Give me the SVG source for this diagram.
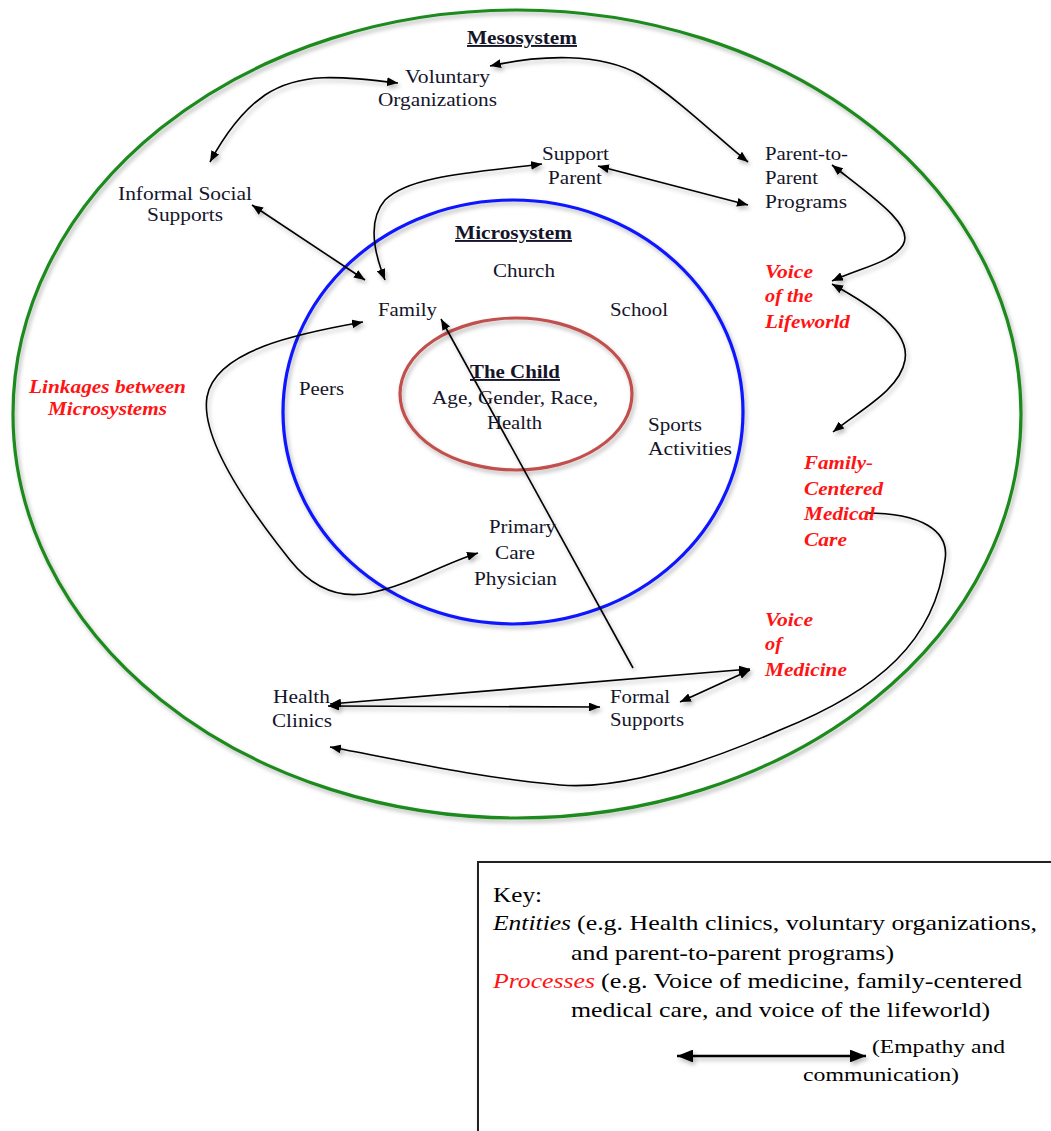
<svg xmlns="http://www.w3.org/2000/svg" width="1051" height="1131" viewBox="0 0 1051 1131" font-family="'Liberation Serif', Tinos, 'Times New Roman', serif">
<defs>
<style>
text{font-family:"Liberation Serif",Tinos,"Times New Roman",serif;font-size:19px;fill:#15152a}
.hdr{font-weight:bold;text-decoration:underline}
.proc{font-style:italic;font-weight:bold;fill:#ff1414}
.key{font-size:22px;fill:#000}
.sm{font-size:19px;fill:#000}
.it{font-style:italic}
.red{fill:#ff1414}
.c{fill:none;stroke:#000;stroke-width:1.6}
.ring{fill:none;stroke-width:3.2}
</style>
<filter id="sh" filterUnits="userSpaceOnUse" x="0" y="0" width="1051" height="1131">
<feDropShadow dx="2" dy="3" stdDeviation="2" flood-color="#000" flood-opacity="0.28"/>
</filter>
<marker id="ah" viewBox="0 0 10 8" refX="10" refY="4" markerWidth="11" markerHeight="8.8" markerUnits="userSpaceOnUse" orient="auto-start-reverse">
<path d="M0,0 L10,4 L0,8 z" fill="#000"/>
</marker>
<marker id="ahk" viewBox="0 0 10 8" refX="10" refY="4" markerWidth="16" markerHeight="12.8" markerUnits="userSpaceOnUse" orient="auto-start-reverse">
<path d="M0,0 L10,4 L0,8 z" fill="#000"/>
</marker>
</defs>
<rect width="1051" height="1131" fill="#fff"/>

<g id="rings" filter="url(#sh)">
<ellipse id="mesosystem-ring" cx="517" cy="414" rx="504" ry="404" class="ring" stroke="#1f8a1f"/>
<ellipse id="microsystem-ring" cx="513" cy="412" rx="230" ry="212" class="ring" stroke="#0a14ff"/>
<ellipse id="child-ring" cx="516" cy="394" rx="116" ry="76" class="ring" stroke="#c0504d"/>
</g>

<g id="connectors" filter="url(#sh)">
<path class="c" d="M398,83 C340,76 300,72 265,95 C240,112 222,140 210,162" marker-start="url(#ah)" marker-end="url(#ah)"/>
<path class="c" d="M490,66 C540,55 600,52 640,75 C680,100 720,140 748,162" marker-start="url(#ah)" marker-end="url(#ah)"/>
<path class="c" d="M252,205 L365,280" marker-start="url(#ah)" marker-end="url(#ah)"/>
<path class="c" d="M385,280 C375,255 366,222 385,200 C410,175 480,172 542,164" marker-start="url(#ah)" marker-end="url(#ah)"/>
<path class="c" d="M598,166 L748,205" marker-start="url(#ah)" marker-end="url(#ah)"/>
<path class="c" d="M832,165 C870,195 915,225 903,245 C893,262 860,268 832,281" marker-start="url(#ah)" marker-end="url(#ah)"/>
<path class="c" d="M832,284 C870,305 910,330 905,360 C900,390 860,410 833,432" marker-start="url(#ah)" marker-end="url(#ah)"/>
<path class="c" d="M363,322 C300,333 215,350 207,397 C200,440 250,510 290,560 C310,585 335,600 370,593 C410,585 440,565 478,553" marker-start="url(#ah)" marker-end="url(#ah)"/>
<path class="c" d="M633,668 L441,319" marker-end="url(#ah)"/>
<path class="c" d="M328,706 L600,707" marker-start="url(#ah)" marker-end="url(#ah)"/>
<path class="c" d="M330,704 L750,669" marker-start="url(#ah)" marker-end="url(#ah)"/>
<path class="c" d="M750,670 L680,702" marker-start="url(#ah)" marker-end="url(#ah)"/>
<path class="c" d="M866,513 C920,513 950,530 945,560 C935,640 880,690 780,730 C700,765 620,790 560,785 C480,778 400,760 330,747" marker-end="url(#ah)"/>
</g>

<g id="n-mesosystem"><text x="467" y="44" class="hdr" textLength="110" lengthAdjust="spacingAndGlyphs">Mesosystem</text></g>
<g id="n-voluntary">
<text x="405" y="83" textLength="85" lengthAdjust="spacingAndGlyphs">Voluntary</text>
<text x="378" y="106" textLength="119" lengthAdjust="spacingAndGlyphs">Organizations</text>
</g>
<g id="n-informal">
<text x="118" y="200" textLength="134" lengthAdjust="spacingAndGlyphs">Informal Social</text>
<text x="147" y="221" textLength="76" lengthAdjust="spacingAndGlyphs">Supports</text>
</g>
<g id="n-support-parent">
<text x="542" y="160" textLength="67" lengthAdjust="spacingAndGlyphs">Support</text>
<text x="548" y="184" textLength="54" lengthAdjust="spacingAndGlyphs">Parent</text>
</g>
<g id="n-p2p">
<text x="765" y="160" textLength="83" lengthAdjust="spacingAndGlyphs">Parent-to-</text>
<text x="765" y="184" textLength="53" lengthAdjust="spacingAndGlyphs">Parent</text>
<text x="765" y="208" textLength="82" lengthAdjust="spacingAndGlyphs">Programs</text>
</g>
<g id="n-microsystem"><text x="455" y="239" class="hdr" textLength="117" lengthAdjust="spacingAndGlyphs">Microsystem</text></g>
<g id="n-church"><text x="493" y="277" textLength="62" lengthAdjust="spacingAndGlyphs">Church</text></g>
<g id="n-family"><text x="378" y="316" textLength="59" lengthAdjust="spacingAndGlyphs">Family</text></g>
<g id="n-school"><text x="610" y="316" textLength="58" lengthAdjust="spacingAndGlyphs">School</text></g>
<g id="n-peers"><text x="299" y="395" textLength="45" lengthAdjust="spacingAndGlyphs">Peers</text></g>
<g id="n-child">
<text x="470" y="378" class="hdr" textLength="90" lengthAdjust="spacingAndGlyphs">The Child</text>
<text x="432" y="404" textLength="166" lengthAdjust="spacingAndGlyphs">Age, Gender, Race,</text>
<text x="487" y="429" textLength="55" lengthAdjust="spacingAndGlyphs">Health</text>
</g>
<g id="n-sports">
<text x="648" y="431" textLength="54" lengthAdjust="spacingAndGlyphs">Sports</text>
<text x="648" y="455" textLength="84" lengthAdjust="spacingAndGlyphs">Activities</text>
</g>
<g id="n-pcp">
<text x="489" y="533" textLength="67" lengthAdjust="spacingAndGlyphs">Primary</text>
<text x="495" y="559" textLength="40" lengthAdjust="spacingAndGlyphs">Care</text>
<text x="474" y="585" textLength="83" lengthAdjust="spacingAndGlyphs">Physician</text>
</g>
<g id="n-health-clinics">
<text x="273" y="703" textLength="57" lengthAdjust="spacingAndGlyphs">Health</text>
<text x="272" y="727" textLength="60" lengthAdjust="spacingAndGlyphs">Clinics</text>
</g>
<g id="n-formal">
<text x="610" y="703" textLength="60" lengthAdjust="spacingAndGlyphs">Formal</text>
<text x="610" y="726" textLength="74" lengthAdjust="spacingAndGlyphs">Supports</text>
</g>
<g id="n-linkages">
<text x="29" y="393" class="proc" textLength="157" lengthAdjust="spacingAndGlyphs">Linkages between</text>
<text x="48" y="415" class="proc" textLength="119" lengthAdjust="spacingAndGlyphs">Microsystems</text>
</g>
<g id="n-lifeworld">
<text x="765" y="278" class="proc" textLength="48" lengthAdjust="spacingAndGlyphs">Voice</text>
<text x="765" y="302" class="proc" textLength="48" lengthAdjust="spacingAndGlyphs">of the</text>
<text x="765" y="328" class="proc" textLength="85" lengthAdjust="spacingAndGlyphs">Lifeworld</text>
</g>
<g id="n-fcmc">
<text x="804" y="469" class="proc" textLength="69" lengthAdjust="spacingAndGlyphs">Family-</text>
<text x="804" y="495" class="proc" textLength="79" lengthAdjust="spacingAndGlyphs">Centered</text>
<text x="804" y="520" class="proc" textLength="71" lengthAdjust="spacingAndGlyphs">Medical</text>
<text x="804" y="546" class="proc" textLength="43" lengthAdjust="spacingAndGlyphs">Care</text>
</g>
<g id="n-medicine">
<text x="765" y="626" class="proc" textLength="48" lengthAdjust="spacingAndGlyphs">Voice</text>
<text x="765" y="650" class="proc" textLength="17" lengthAdjust="spacingAndGlyphs">of</text>
<text x="765" y="676" class="proc" textLength="82" lengthAdjust="spacingAndGlyphs">Medicine</text>
</g>

<g id="key">
<rect x="478" y="862" width="600" height="300" fill="#fff" stroke="#222" stroke-width="2" filter="url(#sh)"/>
<text x="493" y="902" class="key" textLength="49" lengthAdjust="spacingAndGlyphs">Key:</text>
<text x="493" y="930" class="key it" textLength="78" lengthAdjust="spacingAndGlyphs">Entities</text>
<text x="577" y="930" class="key" textLength="460" lengthAdjust="spacingAndGlyphs">(e.g. Health clinics, voluntary organizations,</text>
<text x="571" y="960" class="key" textLength="323" lengthAdjust="spacingAndGlyphs">and parent-to-parent programs)</text>
<text x="493" y="988" class="key it red" textLength="102" lengthAdjust="spacingAndGlyphs">Processes</text>
<text x="601" y="988" class="key" textLength="421" lengthAdjust="spacingAndGlyphs">(e.g. Voice of medicine, family-centered</text>
<text x="571" y="1017" class="key" textLength="419" lengthAdjust="spacingAndGlyphs">medical care, and voice of the lifeworld)</text>
<path d="M677,1056 L866,1056" fill="none" stroke="#000" stroke-width="2.6" marker-start="url(#ahk)" marker-end="url(#ahk)" filter="url(#sh)"/>
<text x="872" y="1053" class="sm" textLength="133" lengthAdjust="spacingAndGlyphs">(Empathy and</text>
<text x="803" y="1081" class="sm" textLength="156" lengthAdjust="spacingAndGlyphs">communication)</text>
</g>
</svg>
